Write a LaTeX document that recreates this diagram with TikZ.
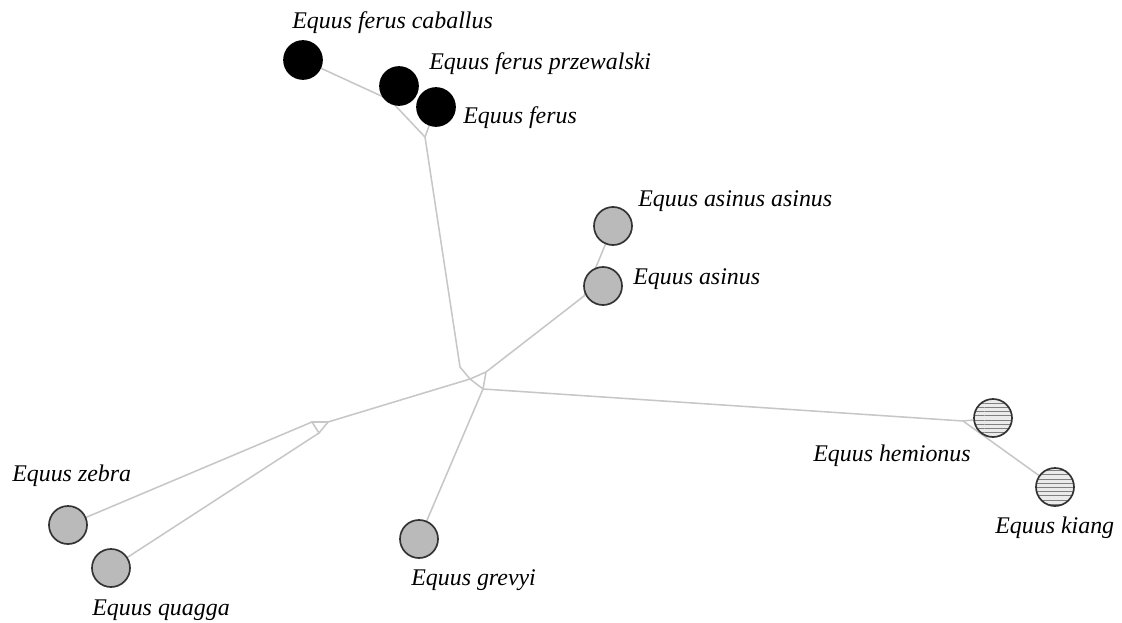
\documentclass[tikz,border=0pt]{standalone}
\usepackage{fontspec}
\setmainfont{Liberation Serif}
\usetikzlibrary{patterns, backgrounds}

\begin{document}
\begin{tikzpicture}[x=0.025cm, y=-0.025cm,
    taxon/.style={circle, draw=black!80, line width=1.2pt, minimum size=0.95cm, inner sep=0pt},
    horse/.style={taxon, fill=black, draw=black},
    ass/.style={taxon, fill=black!27},
    onager/.style={taxon, preaction={fill=black!8}, pattern=horizontal lines, pattern color=black!50},
    taxlabel/.style={anchor=base west, inner sep=0pt, font=\fontsize{17}{20}\selectfont\itshape},
    branch/.style={black!22, line width=1.1pt}]
  \useasboundingbox (0,0) rectangle (1122,623);

  % Caballine horses
  \node[horse] (cab) at (303,60) {};
  \node[horse] (prz) at (399,86) {};
  \node[horse] (fer) at (436,107) {};
  \node[taxlabel] (cabname) at (292,29) {Equus ferus caballus};
  \node[taxlabel] (przname) at (429,70) {Equus ferus przewalski};
  \node[taxlabel] (fername) at (463,124) {Equus ferus};

  % Asses
  \node[ass] (asa) at (613,226) {};
  \node[ass] (asi) at (603,286) {};
  \node[taxlabel] (asaname) at (638,206) {Equus asinus asinus};
  \node[taxlabel] (asiname) at (633,284) {Equus asinus};

  % Hemiones
  \node[onager] (hem) at (993,418) {};
  \node[onager] (kia) at (1055,487) {};
  \node[taxlabel] (hemname) at (813,461) {Equus hemionus};
  \node[taxlabel] (kianame) at (995,533) {Equus kiang};

  % Zebras
  \node[ass] (zeb) at (68,525) {};
  \node[ass] (qua) at (111,568) {};
  \node[ass] (gre) at (419,539) {};
  \node[taxlabel] (zebname) at (12,481) {Equus zebra};
  \node[taxlabel] (quaname) at (92,615) {Equus quagga};
  \node[taxlabel] (grename) at (411,585) {Equus grevyi};

  % Inner points of the network
  \coordinate (jcab) at (390,100);
  \coordinate (jfer) at (425,137);
  \coordinate (jbend) at (460,367);
  \coordinate (hubw) at (470,379);
  \coordinate (hubn) at (486,372);
  \coordinate (hubs) at (483,389);
  \coordinate (jasi) at (584,296);
  \coordinate (jzl) at (312,422);
  \coordinate (jzr) at (328,422);
  \coordinate (jzb) at (319,433);
  \coordinate (jhem) at (963,421);

  % Branches
  \begin{scope}[on background layer]
    \draw[branch] (cab) -- (jcab) -- (jfer);
    \draw[branch] (prz) -- (jcab);
    \draw[branch] (fer) -- (jfer);
    \draw[branch] (jfer) -- (jbend) -- (hubw);
    \draw[branch] (hubw) -- (hubn) -- (hubs) -- cycle;
    \draw[branch] (hubn) -- (jasi) -- (asi);
    \draw[branch] (jasi) -- (asa);
    \draw[branch] (hubw) -- (jzr);
    \draw[branch] (jzl) -- (jzr) -- (jzb) -- cycle;
    \draw[branch] (jzl) -- (zeb);
    \draw[branch] (jzb) -- (qua);
    \draw[branch] (hubs) -- (gre);
    \draw[branch] (hubs) -- (jhem) -- (hem);
    \draw[branch] (jhem) -- (kia);
  \end{scope}
\end{tikzpicture}
\end{document}
